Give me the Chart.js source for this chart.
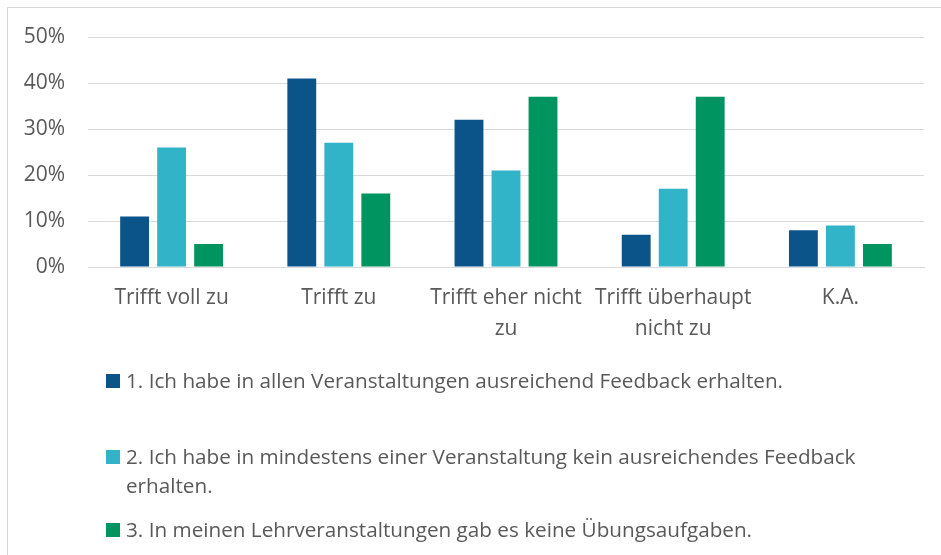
<!DOCTYPE html>
<html>
<head>
<meta charset="utf-8">
<script src="https://cdn.jsdelivr.net/npm/chart.js@4"></script>
<style>
  html, body { margin: 0; padding: 0; background: #fff; }
  body { width: 941px; height: 555px; overflow: hidden; position: relative; font-family: "Open Sans", sans-serif; }
  .frame { position: absolute; left: 7px; top: 7px; width: 960px; height: 600px; border: 1px solid #d9d9d9; }
  .chart-box { position: absolute; left: 0; top: 0; width: 941px; height: 345px; }
  .legend { position: absolute; left: 0; top: 0; width: 941px; height: 555px; }
  .legend-item { position: absolute; left: 106px; width: 760px; color: #595959; font-size: 20.7px; line-height: 29px; padding-left: 20px; }
  .legend-item .swatch { position: absolute; left: 0; top: 8px; width: 14px; height: 14px; }
  .legend-item:nth-child(1) { top: 366px; }
  .legend-item:nth-child(2) { top: 442px; }
  .legend-item:nth-child(3) { top: 515px; }
</style>
</head>
<body>
<div class="frame"></div>
<div class="chart-box"><canvas id="chart"></canvas></div>
<div class="legend" id="legend"></div>
<script>
const categories = ['Trifft voll zu', 'Trifft zu', ['Trifft eher nicht', 'zu'], ['Trifft überhaupt', 'nicht zu'], 'K.A.'];
const seriesNames = [
    '1. Ich habe in allen Veranstaltungen ausreichend Feedback erhalten.',
    '2. Ich habe in mindestens einer Veranstaltung kein ausreichendes Feedback erhalten.',
    '3. In meinen Lehrveranstaltungen gab es keine Übungsaufgaben.'
];
const feedbackAll = [11, 41, 32, 7, 8];
const feedbackMissing = [26, 27, 21, 17, 9];
const noExercises = [5, 16, 37, 37, 5];
const seriesColors = ['#0b5489', '#31b4c8', '#009460'];
const yTicks = [0, 10, 20, 30, 40, 50];

const seriesValues = [feedbackAll, feedbackMissing, noExercises];
const textColor = '#595959';

const ctx = document.getElementById('chart').getContext('2d');
new Chart(ctx, {
    type: 'bar',
    data: {
        labels: categories,
        datasets: seriesValues.map((values, i) => ({
            label: seriesNames[i],
            data: values,
            backgroundColor: seriesColors[i],
            borderWidth: 0,
            barPercentage: 0.78,
            categoryPercentage: 0.664
        }))
    },
    options: {
        responsive: true,
        maintainAspectRatio: false,
        animation: false,
        layout: { padding: { left: 0, right: 17, top: 37, bottom: 0 } },
        plugins: {
            legend: { display: false },
            tooltip: { enabled: false }
        },
        scales: {
            y: {
                min: 0,
                max: 50,
                afterFit: (scale) => { scale.width = 88; },
                afterBuildTicks: (scale) => { scale.ticks = yTicks.map((v) => ({ value: v })); },
                border: { display: false },
                grid: { color: '#d9d9d9', lineWidth: 1, drawTicks: false },
                ticks: {
                    padding: 23,
                    color: textColor,
                    font: { family: 'Open Sans', size: 21 },
                    callback: (v) => v + '%'
                }
            },
            x: {
                afterFit: (scale) => { scale.height = 78; },
                border: { color: '#d9d9d9', width: 1 },
                grid: { display: false },
                ticks: {
                    padding: 8,
                    maxRotation: 0,
                    autoSkip: false,
                    color: textColor,
                    font: { family: 'Open Sans', size: 21, lineHeight: 1.45 }
                }
            }
        }
    }
});

const legendEl = document.getElementById('legend');
seriesNames.forEach((name, i) => {
    const item = document.createElement('div');
    item.className = 'legend-item';
    const swatch = document.createElement('span');
    swatch.className = 'swatch';
    swatch.style.background = seriesColors[i];
    item.appendChild(swatch);
    item.appendChild(document.createTextNode(name));
    legendEl.appendChild(item);
});
</script>
</body>
</html>
